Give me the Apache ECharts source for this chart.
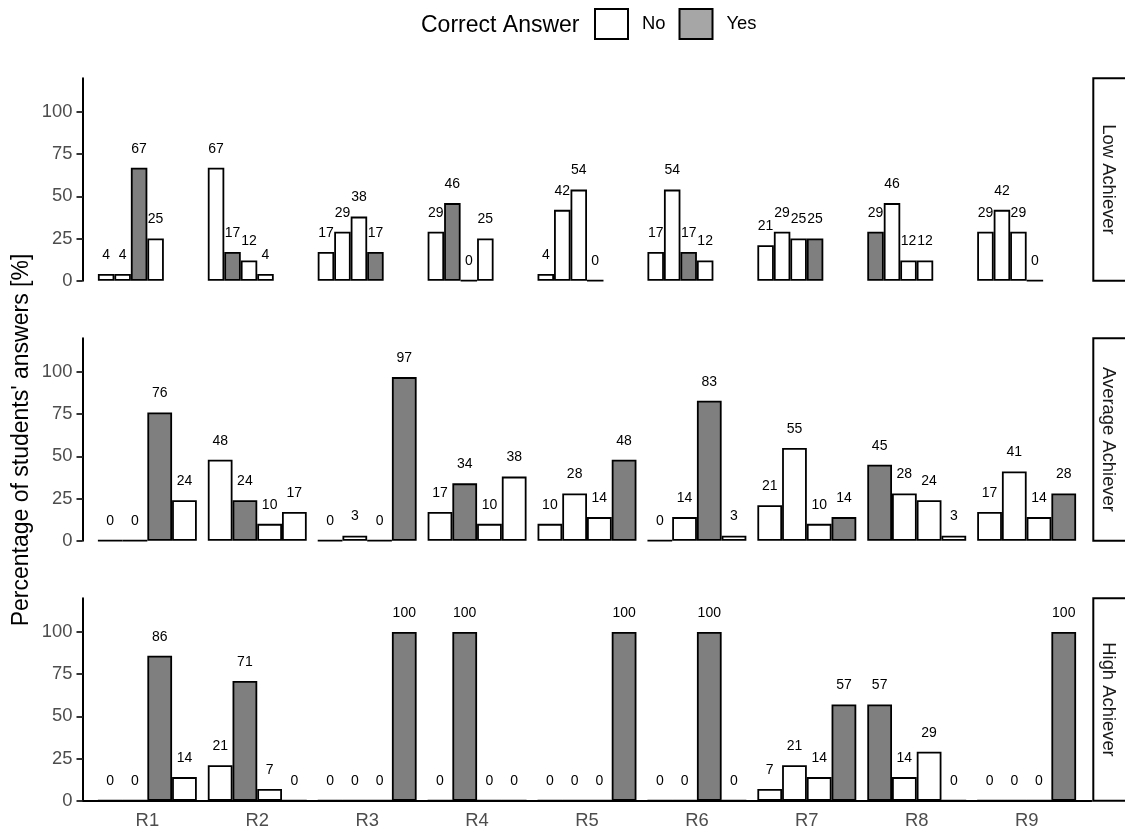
<!DOCTYPE html>
<html>
<head>
<meta charset="utf-8">
<script src="https://cdn.jsdelivr.net/npm/echarts@6/dist/echarts.min.js"></script>
<style>
  html, body { margin: 0; padding: 0; background: #ffffff; }
  #chart { width: 1125px; height: 831px; }
</style>
</head>
<body>
<div id="chart"></div>
<script>
// Questions on the x axis and the four answer options drawn per question
const questions = ['R1', 'R2', 'R3', 'R4', 'R5', 'R6', 'R7', 'R8', 'R9'];
const answerOptions = ['A', 'B', 'C', 'D'];
// Correct option for each question
const correctAnswer = ['C', 'B', 'D', 'B', 'D', 'C', 'D', 'A', 'D'];

// Facet rows
const achieverLevels = ['Low Achiever', 'Average Achiever', 'High Achiever'];

// Percentage of students choosing options A-D, one row per question
const lowAchiever = [
  [4, 4, 67, 25],
  [67, 17, 12, 4],
  [17, 29, 38, 17],
  [29, 46, 0, 25],
  [4, 42, 54, 0],
  [17, 54, 17, 12],
  [21, 29, 25, 25],
  [29, 46, 12, 12],
  [29, 42, 29, 0]
];
const averageAchiever = [
  [0, 0, 76, 24],
  [48, 24, 10, 17],
  [0, 3, 0, 97],
  [17, 34, 10, 38],
  [10, 28, 14, 48],
  [0, 14, 83, 3],
  [21, 55, 10, 14],
  [45, 28, 24, 3],
  [17, 41, 14, 28]
];
const highAchiever = [
  [0, 0, 86, 14],
  [21, 71, 7, 0],
  [0, 0, 0, 100],
  [0, 100, 0, 0],
  [0, 0, 0, 100],
  [0, 0, 100, 0],
  [7, 21, 14, 57],
  [57, 14, 29, 0],
  [0, 0, 0, 100]
];
const levelData = [lowAchiever, averageAchiever, highAchiever];

// Y axis tick values
const yTicks = [0, 25, 50, 75, 100];

// ---- styling / layout ----
const FONT = "'Liberation Sans', Arial, Helvetica, sans-serif";
const NO_FILL = '#ffffff';
const YES_FILL = '#7f7f7f';
const YES_KEY = '#a6a6a6';
const Y_MAX = 120;
const W = 1125, H = 831;

const panelLeft = 82.5;
const panelRight = 1091.5;
const panelWidth = panelRight - panelLeft;
const bandWidth = panelWidth / (questions.length + 1.2);
const innerLeft = panelLeft + 0.1 * bandWidth;
const innerRight = panelRight - 0.1 * bandWidth;
const panelTops = [78.3, 338.3, 598.3];
const panelHeight = 202.4;

const grids = [], xAxes = [], yAxes = [], series = [], graphics = [];

function gridBox(left, right, top) {
  return {
    left: left, right: W - right, top: top, bottom: H - (top + panelHeight),
    containLabel: false, outerBoundsMode: 'none'
  };
}

achieverLevels.forEach((level, l) => {
  const isBottom = l === achieverLevels.length - 1;
  const top = panelTops[l];
  // frame grid: carries the y axis and (bottom row) the x axis line
  grids.push(gridBox(panelLeft, panelRight, top));
  // bar grid: discrete axis inset like a ggplot discrete scale
  grids.push(gridBox(innerLeft, innerRight, top));

  xAxes.push({
    gridIndex: 2 * l, type: 'value', min: 0, max: 1,
    axisLine: { show: isBottom, onZero: false, lineStyle: { color: '#000', width: 2 } },
    axisTick: { show: false }, axisLabel: { show: false }, splitLine: { show: false }
  });
  xAxes.push({
    gridIndex: 2 * l + 1, type: 'category', data: questions,
    axisLine: { show: false }, axisTick: { show: false },
    axisLabel: {
      show: isBottom, margin: 11, fontSize: 18.4, color: '#4d4d4d', fontFamily: FONT
    },
    splitLine: { show: false }
  });
  yAxes.push({
    gridIndex: 2 * l, type: 'value', min: 0, max: Y_MAX,
    axisLine: { show: true, lineStyle: { color: '#000', width: 2 } },
    axisTick: { show: true, length: 6, customValues: yTicks, lineStyle: { color: '#333', width: 2 } },
    axisLabel: { margin: 10, fontSize: 18.4, color: '#4d4d4d', fontFamily: FONT, customValues: yTicks },
    splitLine: { show: false }
  });
  yAxes.push({
    gridIndex: 2 * l + 1, type: 'value', min: 0, max: Y_MAX, show: false,
    splitLine: { show: false }
  });

  answerOptions.forEach((opt, o) => {
    series.push({
      type: 'bar',
      name: level + ' ' + opt,
      xAxisIndex: 2 * l + 1,
      yAxisIndex: 2 * l + 1,
      barGap: '0%',
      barCategoryGap: '10%',
      data: questions.map((q, i) => ({
        value: levelData[l][i][o],
        itemStyle: { color: correctAnswer[i] === opt ? YES_FILL : NO_FILL }
      })),
      itemStyle: { borderColor: '#000', borderWidth: 1.8 },
      label: {
        show: true, position: 'top', distance: 12,
        fontSize: 14, color: '#000', fontFamily: FONT
      },
      emphasis: { disabled: true },
      silent: true,
      legendHoverLink: false
    });
  });

  // facet strip on the right
  graphics.push({
    type: 'rect',
    shape: { x: 1093.3, y: top, width: 34, height: panelHeight },
    style: { fill: '#fff', stroke: '#000', lineWidth: 2 }
  });
  graphics.push({
    type: 'text',
    x: 1108.5, y: top + panelHeight / 2,
    rotation: -Math.PI / 2,
    style: {
      text: level, fontSize: 18.4, fill: '#1a1a1a', fontFamily: FONT,
      align: 'center', verticalAlign: 'middle'
    }
  });
});

// legend entries
['No', 'Yes'].forEach((name) => {
  series.push({
    type: 'bar', name: name, xAxisIndex: 1, yAxisIndex: 1, data: [],
    itemStyle: { color: name === 'Yes' ? YES_KEY : NO_FILL, borderColor: '#000', borderWidth: 1.8 }
  });
});

// y axis title
graphics.push({
  type: 'text', x: 22, y: 440, rotation: Math.PI / 2,
  style: {
    text: "Percentage of students' answers [%]", fontSize: 23, fill: '#000', fontFamily: FONT,
    align: 'center', verticalAlign: 'middle'
  }
});
// legend title
graphics.push({
  type: 'text', x: 421, y: 26,
  style: {
    text: 'Correct Answer', fontSize: 23, fill: '#000', fontFamily: FONT,
    align: 'left', verticalAlign: 'middle'
  }
});

const chart = echarts.init(document.getElementById('chart'), null, { renderer: 'canvas' });
chart.setOption({
  animation: false,
  backgroundColor: '#ffffff',
  textStyle: { fontFamily: FONT },
  legend: {
    data: ['No', 'Yes'],
    left: 594, top: 8,
    padding: 0,
    itemWidth: 33, itemHeight: 30, itemGap: 13,
    icon: 'rect',
    selectedMode: false,
    textStyle: { fontSize: 18.4, color: '#000', fontFamily: FONT, padding: [10, 0, 0, 9] }
  },
  grid: grids,
  xAxis: xAxes,
  yAxis: yAxes,
  series: series,
  graphic: graphics
});
</script>
</body>
</html>
